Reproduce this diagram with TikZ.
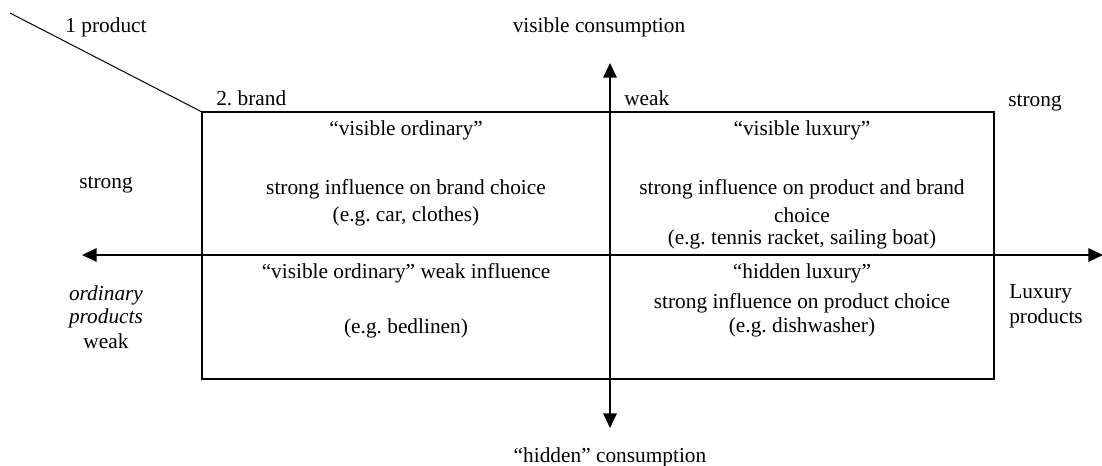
\documentclass[tikz,border=0pt]{standalone}
\usepackage{fontspec}
\setmainfont{Liberation Serif}
\usetikzlibrary{arrows.meta}
\frenchspacing
\begin{document}
\begin{tikzpicture}[x=0.75pt,y=-0.75pt,
  txt/.style={inner sep=0pt,font=\fontsize{16}{19}\selectfont,anchor=base},
  ltxt/.style={txt,anchor=base west},
  axis/.style={line width=1.5pt,-{Triangle[length=11pt,width=10pt]}},
  frame/.style={line width=1.5pt}]
\useasboundingbox (0,0) rectangle (1102,465);
% box
\coordinate (tl) at (202,112);
\coordinate (br) at (994,379);
\draw[frame] (tl) rectangle (br);
\coordinate (dstart) at (10,13);
\draw[line width=0.75pt] (dstart) -- (tl);
% axes
\coordinate (hc) at (610,255);
\coordinate (left) at (82,255);
\coordinate (right) at (1103,255);
\coordinate (top) at (610,63);
\coordinate (bot) at (610,428);
\draw[axis] (hc) -- (left);
\draw[axis] (hc) -- (right);
\draw[axis] (hc) -- (top);
\draw[axis] (hc) -- (bot);
% labels
\node[txt] (prod) at (106,32) {1 product};
\node[txt] (vc) at (599,32) {visible consumption};
\node[ltxt] (brand) at (216,105) {2. brand};
\node[ltxt] (weak1) at (624,105) {weak};
\node[txt] (strong1) at (1035,106) {strong};
\node[txt] (vo) at (406,135) {“visible ordinary”};
\node[txt] (vl) at (802,135) {“visible luxury”};
\node[txt] (vo1) at (406,194) {strong influence on brand choice};
\node[txt] (vo2) at (406,221) {(e.g. car, clothes)};
\node[txt] (vl1) at (802,194) {strong influence on product and brand};
\node[txt] (vl2) at (802,222) {choice};
\node[txt] (vl3) at (802,244) {(e.g. tennis racket, sailing boat)};
\node[txt] (strong2) at (106,188) {strong};
\node[txt] (hw) at (406,278) {“visible ordinary” weak influence};
\node[txt] (hw2) at (406,333) {(e.g. bedlinen)};
\node[txt] (hl) at (802,278) {“hidden luxury”};
\node[txt] (hl1) at (802,308) {strong influence on product choice};
\node[txt] (hl2) at (802,332) {(e.g. dishwasher)};
\node[txt] (ord1) at (106,300) {\itshape ordinary};
\node[txt] (ord2) at (106,323) {\itshape products};
\node[txt] (ord3) at (106,348) {weak};
\node[ltxt] (lux1) at (1009,298) {Luxury};
\node[ltxt] (lux2) at (1009,323) {products};
\node[txt] (hc2) at (610,462) {“hidden” consumption};
\end{tikzpicture}
\end{document}
